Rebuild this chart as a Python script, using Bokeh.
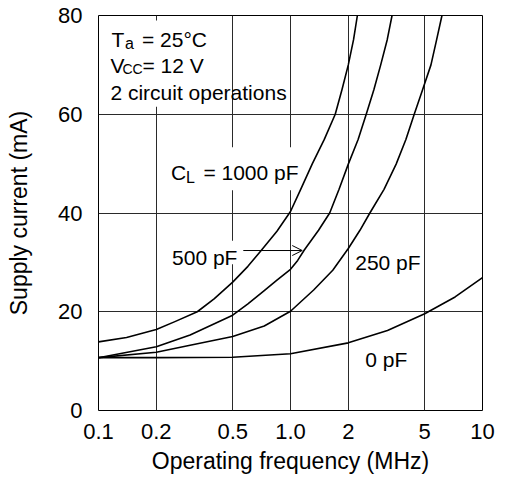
from bokeh.plotting import figure
from bokeh.models import FixedTicker, Label, BoxAnnotation, Arrow, OpenHead
from bokeh.embed import file_html
from bokeh.resources import INLINE

# ---- data ----
FREQ_TICKS = [0.1, 0.2, 0.5, 1.0, 2, 5, 10]
FREQ_TICK_LABELS = ["0.1", "0.2", "0.5", "1.0", "2", "5", "10"]
CURRENT_TICKS = [0, 20, 40, 60, 80]

freq_1000pF = [0.1, 0.14, 0.2, 0.25, 0.327, 0.4, 0.5, 0.6, 0.7, 0.85, 1.0, 1.13, 1.3, 1.5, 1.71, 1.855, 2.0, 2.13, 2.23]
curr_1000pF = [13.9, 14.8, 16.4, 18.0, 20.0, 22.6, 26.0, 29.2, 32.3, 36.3, 40.3, 44.8, 50.0, 54.9, 60.0, 65.0, 70.0, 75.1, 80.0]

freq_500pF = [0.1, 0.2, 0.3, 0.5, 0.6, 0.73, 0.85, 1.0, 1.09, 1.18, 1.4, 1.6, 1.79, 2.0, 2.25, 2.48, 2.72, 2.95, 3.19, 3.38]
curr_500pF = [10.7, 12.9, 15.3, 19.3, 21.6, 24.3, 26.4, 28.6, 30.4, 32.5, 36.5, 40.0, 44.8, 49.9, 54.9, 60.0, 65.0, 70.0, 75.1, 80.0]

freq_250pF = [0.1, 0.2, 0.3, 0.5, 0.73, 1.0, 1.32, 1.66, 2.0, 2.3, 2.59, 3.07, 3.55, 3.99, 4.41, 4.88, 5.39, 5.77, 6.15]
curr_250pF = [10.7, 11.8, 13.2, 15.0, 17.1, 20.1, 24.4, 28.4, 32.8, 36.5, 40.0, 44.8, 49.9, 54.9, 60.0, 65.0, 70.0, 75.1, 80.0]

freq_0pF = [0.1, 0.2, 0.5, 1.0, 2.0, 3.2, 5.0, 7.2, 10.0]
curr_0pF = [10.7, 10.7, 10.8, 11.5, 13.7, 16.2, 19.6, 23.0, 26.9]

FONT = "Liberation Sans"

p = figure(width=495, height=480, x_axis_type="log",
           x_range=(0.1, 10), y_range=(0, 80),
           output_backend="svg", toolbar_location=None,
           min_border_left=98, min_border_right=13,
           min_border_top=15, min_border_bottom=70)

p.background_fill_color = "white"
p.border_fill_color = "white"
p.outline_line_color = "black"
p.outline_line_width = 1

# axes
for ax in (p.xaxis[0], p.yaxis[0]):
    ax.axis_line_color = None
    ax.major_tick_out = 0
    ax.major_tick_in = 0
    ax.minor_tick_out = 0
    ax.minor_tick_in = 0
    ax.major_label_text_font = FONT
    ax.major_label_text_font_size = "22px"
    ax.major_label_text_color = "black"
    ax.axis_label_text_font = FONT
    ax.axis_label_text_font_size = "23px"
    ax.axis_label_text_font_style = "normal"
    ax.axis_label_text_color = "black"

p.xaxis.ticker = FixedTicker(ticks=FREQ_TICKS)
p.xaxis.major_label_overrides = {t: s for t, s in zip(FREQ_TICKS, FREQ_TICK_LABELS)}
p.yaxis.ticker = FixedTicker(ticks=CURRENT_TICKS)
p.xaxis.axis_label = "Operating frequency (MHz)"
p.yaxis.axis_label = "Supply current (mA)"
p.xaxis.major_label_standoff = 13
p.xaxis.axis_label_standoff = 6
p.yaxis.major_label_standoff = 16
p.yaxis.axis_label_standoff = 23

p.xgrid.ticker = FixedTicker(ticks=FREQ_TICKS)
p.ygrid.ticker = FixedTicker(ticks=CURRENT_TICKS)
for g in (p.xgrid[0], p.ygrid[0]):
    g.grid_line_color = "#2a2a2a"
    g.grid_line_width = 1

# white boxes behind annotation texts (cover grid lines only)
for (l, r, b, t) in [(0.105, 0.30, 61.5, 79.0),
                     (0.228, 1.03, 44.6, 53.3),
                     (0.233, 0.547, 29.6, 34.4)]:
    p.add_layout(BoxAnnotation(left=l, right=r, bottom=b, top=t,
                               fill_color="white", fill_alpha=1.0,
                               line_color=None, level="underlay"))

# curves
for fx, cy in [(freq_1000pF, curr_1000pF), (freq_500pF, curr_500pF),
               (freq_250pF, curr_250pF), (freq_0pF, curr_0pF)]:
    p.line(fx, cy, line_color="black", line_width=1.6, line_join="round")


def lab(x, y, text, size="21px", dx=0, dy=0):
    p.add_layout(Label(x=x, y=y, text=text, x_offset=dx, y_offset=dy,
                       text_font=FONT, text_font_size=size,
                       text_color="black", text_baseline="alphabetic",
                       text_align="left"))


# conditions block
lab(0.1167, 75.1, "T")
lab(0.1167, 75.1, "a", size="16px", dx=13.7, dy=-4)
lab(0.1167, 75.1, "= 25\u00b0C", dx=30.6)
lab(0.1167, 69.9, "V", dx=-1)
lab(0.1167, 69.9, "CC", size="14px", dx=11.0, dy=-4)
lab(0.1167, 69.9, "= 12 V", dx=31.0)
lab(0.1167, 64.5, "2 circuit operations", dx=-1)

# curve labels
lab(0.2388, 48.2, "C")
lab(0.2388, 48.2, "L", size="16px", dx=14.8, dy=-5)
lab(0.2388, 48.2, "= 1000 pF", dx=32.3)
lab(0.2415, 31.0, "500 pF")
lab(2.173, 30.0, "250 pF")
lab(2.453, 10.4, "0 pF")

p.add_layout(Arrow(end=OpenHead(size=10, line_width=1, line_color="black"),
                   x_start=0.5677, y_start=32.4, x_end=1.151, y_end=32.4,
                   line_width=1, line_color="black"))

open("out.html", "w").write(file_html(p, INLINE))
